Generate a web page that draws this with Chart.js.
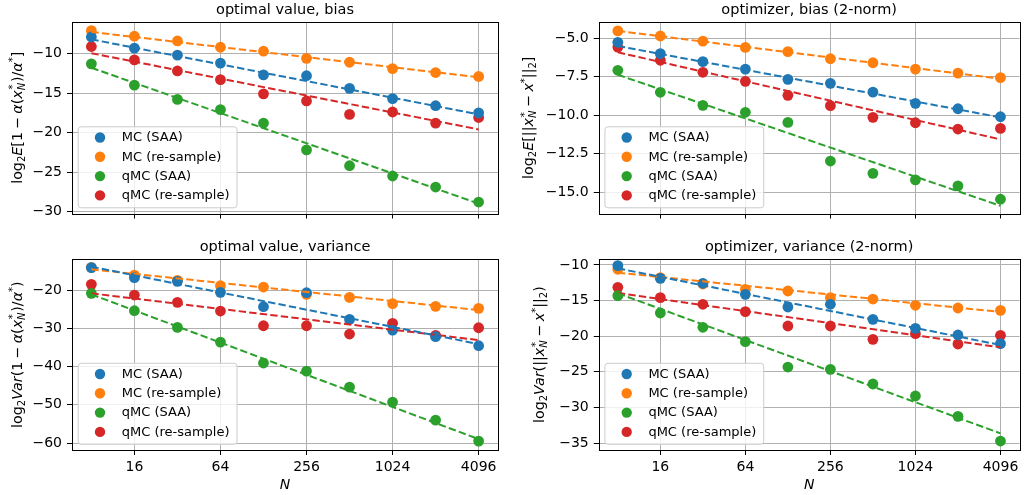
<!DOCTYPE html>
<html><head><meta charset="utf-8">
<script src="https://cdn.jsdelivr.net/npm/chart.js@4.4.0/dist/chart.umd.min.js"></script>
<style>
html,body{margin:0;padding:0;background:#fff;}
#wrap{position:relative;width:1025px;height:495px;overflow:hidden;background:#fff;}
canvas{position:absolute;}
</style></head><body>
<div id="wrap">
<canvas id="c0" width="512" height="240" style="left:0px;top:0px"></canvas>
<canvas id="c1" width="513" height="240" style="left:512px;top:0px"></canvas>
<canvas id="c2" width="512" height="255" style="left:0px;top:240px"></canvas>
<canvas id="c3" width="513" height="255" style="left:512px;top:240px"></canvas>
</div>
<script>
// ---------------- data ----------------
const N = [8, 16, 32, 64, 128, 256, 512, 1024, 2048, 4096];
const fitN = [8, 4096];
const seriesLabels = ['MC (SAA)', 'MC (re-sample)', 'qMC (SAA)', 'qMC (re-sample)'];
const seriesColors = ['#1f77b4', '#ff7f0e', '#2ca02c', '#d62728'];
const xTicks = [16, 64, 256, 1024, 4096];
const xTickLabels = ['16', '64', '256', '1024', '4096'];

// optimal value, bias
const ovBias_MC_SAA  = [-7.9, -9.3, -10.2, -11.2, -12.7, -12.8, -14.4, -15.7, -16.6, -17.5];
const ovBias_MC_RS   = [-7.1, -7.8, -8.4, -9.2, -9.7, -10.6, -11.1, -11.9, -12.4, -12.9];
const ovBias_qMC_SAA = [-11.3, -14.0, -15.8, -17.1, -18.8, -22.2, -24.2, -25.5, -26.9, -28.8];
const ovBias_qMC_RS  = [-9.1, -10.8, -12.2, -13.3, -15.1, -16.0, -17.7, -17.4, -18.8, -18.1];
const ovBiasFit_MC_SAA  = [-8.2, -17.7];
const ovBiasFit_MC_RS   = [-7.26, -13.0];
const ovBiasFit_qMC_SAA = [-11.8, -29.0];
const ovBiasFit_qMC_RS  = [-9.95, -19.6];
const ovBiasTicks = [-30, -25, -20, -15, -10];

// optimizer, bias (2-norm)
const xBias_MC_SAA  = [-5.26, -6.0, -6.52, -7.0, -7.67, -7.93, -8.5, -9.23, -9.58, -10.1];
const xBias_MC_RS   = [-4.52, -4.85, -5.18, -5.59, -5.87, -6.33, -6.59, -7.0, -7.26, -7.56];
const xBias_qMC_SAA = [-7.08, -8.51, -9.36, -9.81, -10.47, -12.98, -13.78, -14.2, -14.59, -15.46];
const xBias_qMC_RS  = [-5.57, -6.43, -7.21, -7.8, -8.71, -9.38, -10.14, -10.49, -10.9, -10.86];
const xBiasFit_MC_SAA  = [-5.5, -10.14];
const xBiasFit_MC_RS   = [-4.52, -7.63];
const xBiasFit_qMC_SAA = [-7.37, -15.89];
const xBiasFit_qMC_RS  = [-5.91, -11.57];
const xBiasTicks = [-15, -12.5, -10, -7.5, -5];

// optimal value, variance
const ovVar_MC_SAA  = [-14.16, -16.78, -17.73, -20.61, -24.36, -20.7, -27.67, -30.46, -32.2, -34.55];
const ovVar_MC_RS   = [-14.07, -16.1, -17.47, -18.87, -19.22, -21.13, -21.92, -23.57, -24.27, -24.79];
const ovVar_qMC_SAA = [-20.87, -25.4, -29.76, -33.6, -39.08, -41.18, -45.36, -49.28, -53.99, -59.48];
const ovVar_qMC_RS  = [-18.52, -21.31, -23.22, -25.49, -29.33, -29.33, -31.5, -28.71, -31.85, -29.85];
const ovVarFit_MC_SAA  = [-13.9, -34.12];
const ovVarFit_MC_RS   = [-14.6, -25.23];
const ovVarFit_qMC_SAA = [-21.13, -58.95];
const ovVarFit_qMC_RS  = [-20.87, -33.07];
const ovVarTicks = [-60, -50, -40, -30, -20];

// optimizer, variance (2-norm)
const xVar_MC_SAA  = [-10.09, -11.87, -12.57, -14.12, -15.9, -15.52, -17.63, -18.9, -19.83, -21.05];
const xVar_MC_RS   = [-10.6, -11.78, -12.67, -13.42, -13.65, -14.59, -14.78, -15.66, -16.04, -16.37];
const xVar_qMC_SAA = [-14.31, -16.74, -18.75, -20.77, -24.33, -24.65, -26.71, -28.4, -31.25, -34.72];
const xVar_qMC_RS  = [-13.14, -14.59, -15.52, -16.55, -18.57, -18.57, -20.44, -19.64, -21.1, -19.88];
const xVarFit_MC_SAA  = [-10.47, -21.24];
const xVarFit_MC_RS   = [-11.08, -16.6];
const xVarFit_qMC_SAA = [-13.98, -33.64];
const xVarFit_qMC_RS  = [-13.93, -21.56];
const xVarTicks = [-35, -30, -25, -20, -15, -10];

// ---------------- rendering ----------------
Chart.defaults.font.family = '"DejaVu Sans", sans-serif';
Chart.defaults.font.size = 14;
Chart.defaults.color = '#000';

const FAM = '"DejaVu Sans"';
function fnt(it, sz) { return (it ? 'italic ' : '') + sz + 'px ' + FAM; }

function drawRich(ctx, segs, bx, cy, fs) {
  const k = 0.7;
  const items = segs.map(s => {
    if (s.ss) {
      ctx.font = fnt(false, fs * k); const w1 = ctx.measureText(s.ss[0]).width;
      ctx.font = fnt(true, fs * k); const w2 = ctx.measureText(s.ss[1]).width;
      return { s, w: Math.max(w1, w2) + 0.05 * fs };
    }
    const sz = (s.sub || s.sup) ? fs * k : fs;
    ctx.font = fnt(s.it, sz);
    return { s, w: ctx.measureText(s.t).width + (s.pad || 0) * 2 * fs };
  });
  const total = items.reduce((a, b) => a + b.w, 0);
  ctx.save();
  ctx.translate(bx, cy);
  ctx.rotate(-Math.PI / 2);
  ctx.textBaseline = 'alphabetic';
  ctx.textAlign = 'left';
  ctx.fillStyle = '#000';
  let x = -total / 2;
  for (const it of items) {
    const s = it.s;
    if (s.ss) {
      ctx.font = fnt(false, fs * k); ctx.fillText(s.ss[0], x + 0.05 * fs, -fs * 0.36);
      ctx.font = fnt(true, fs * k); ctx.fillText(s.ss[1], x, fs * 0.24);
    } else {
      const sz = (s.sub || s.sup) ? fs * k : fs;
      ctx.font = fnt(s.it, sz);
      const dy = s.sub ? fs * 0.24 : (s.sup ? -fs * 0.36 : 0);
      ctx.fillText(s.t, x + (s.pad || 0) * fs, dy);
    }
    x += it.w;
  }
  ctx.restore();
}

const decoPlugin = {
  id: 'deco',
  afterDraw(chart) {
    const cfg = chart.options.plugins.deco;
    const ctx = chart.ctx;
    const a = chart.chartArea;
    ctx.save();
    // spines
    ctx.strokeStyle = '#000';
    ctx.lineWidth = 1;
    const L = Math.round(a.left) + 0.5, T = Math.round(a.top) + 0.5;
    const R = Math.round(a.right) + 0.5, B = Math.round(a.bottom) + 0.5;
    ctx.strokeRect(L, T, R - L, B - T);
    // title
    ctx.fillStyle = '#000';
    ctx.font = fnt(false, 14.5);
    ctx.textAlign = 'center';
    ctx.textBaseline = 'alphabetic';
    ctx.fillText(cfg.title, (a.left + a.right) / 2, a.top - 8);
    // x label
    if (cfg.xLabel) {
      ctx.font = fnt(true, 14);
      ctx.fillText(cfg.xLabel, (a.left + a.right) / 2, a.bottom + 39);
    }
    // y label
    drawRich(ctx, cfg.yLabel, a.left - cfg.yLabOff, (a.top + a.bottom) / 2, 14.3);
    // legend
    const ds = chart.data.datasets.filter(d => d.inLegend);
    ctx.font = fnt(false, 13);
    let tw = 0;
    ds.forEach(d => { tw = Math.max(tw, ctx.measureText(d.label).width); });
    const bw = 44 + tw + 7, bh = 81;
    const bxl = a.left + 5.7, byt = a.bottom - 6.2 - bh;
    ctx.beginPath();
    if (ctx.roundRect) ctx.roundRect(bxl + 0.5, byt + 0.5, bw, bh, 3); else ctx.rect(bxl + 0.5, byt + 0.5, bw, bh);
    ctx.fillStyle = 'rgba(255,255,255,0.8)';
    ctx.fill();
    ctx.strokeStyle = '#cccccc';
    ctx.lineWidth = 1;
    ctx.stroke();
    ds.forEach((d, i) => {
      const yy = byt + 11.2 + i * 19.3;
      ctx.beginPath();
      ctx.arc(bxl + 22.3, yy, 5.2, 0, Math.PI * 2);
      ctx.fillStyle = d.pointBackgroundColor;
      ctx.fill();
      ctx.fillStyle = '#000';
      ctx.textAlign = 'left';
      ctx.textBaseline = 'middle';
      ctx.fillText(d.label, bxl + 44, yy + 0.5);
    });
    ctx.restore();
  }
};

function makeChart(id, c) {
  const canvas = document.getElementById(id);
  const W = canvas.width, H = canvas.height;
  const datasets = [];
  for (let i = 0; i < 4; i++) {
    datasets.push({
      label: '',
      data: fitN.map((n, j) => ({ x: n, y: c.fits[i][j] })),
      showLine: true,
      borderColor: seriesColors[i],
      borderWidth: 2,
      borderDash: [7.4, 3.2],
      pointRadius: 0,
      fill: false,
      order: 0
    });
  }
  for (let i = 0; i < 4; i++) {
    datasets.push({
      label: seriesLabels[i],
      inLegend: true,
      data: N.map((n, j) => ({ x: n, y: c.pts[i][j] })),
      showLine: false,
      pointRadius: 5.4,
      pointBorderWidth: 0,
      pointBackgroundColor: seriesColors[i],
      pointBorderColor: seriesColors[i],
      order: 1
    });
  }
  const yTicks = c.yTicks;
  return new Chart(canvas, {
    type: 'scatter',
    data: { datasets },
    plugins: [decoPlugin],
    options: {
      responsive: false,
      animation: false,
      devicePixelRatio: 1,
      layout: { padding: { left: 0, right: W - c.area.right, top: c.area.top, bottom: 0 } },
      plugins: {
        legend: { display: false },
        tooltip: { enabled: false },
        title: { display: false },
        deco: { title: c.title, yLabel: c.yLabel, yLabOff: c.yLabOff, xLabel: c.showX ? 'N' : '' }
      },
      scales: {
        x: {
          type: 'logarithmic',
          min: Math.pow(2, 2.55),
          max: Math.pow(2, 12.45),
          afterBuildTicks: s => { s.ticks = xTicks.map(v => ({ value: v })); },
          afterFit: s => { s.height = H - c.area.bottom; },
          ticks: {
            display: c.showX,
            autoSkip: false,
            maxRotation: 0,
            padding: 4,
            font: { size: 14 },
            color: '#000',
            callback: (v, i) => xTickLabels[i]
          },
          grid: { color: '#b0b0b0', lineWidth: 1, tickColor: '#000', tickLength: 5, tickWidth: 1, drawTicks: true },
          border: { display: false }
        },
        y: {
          type: 'linear',
          min: c.yMin,
          max: c.yMax,
          bounds: 'data',
          afterBuildTicks: s => { s.ticks = yTicks.map(v => ({ value: v })); },
          afterFit: s => { s.width = c.area.left; },
          ticks: {
            autoSkip: false,
            padding: 5,
            font: { size: 14 },
            color: '#000',
            callback: v => (c.dec ? v.toFixed(c.dec) : String(v)).replace('-', '\u2212')
          },
          grid: { color: '#b0b0b0', lineWidth: 1, tickColor: '#000', tickLength: 5, tickWidth: 1, drawTicks: true },
          border: { display: false }
        }
      }
    }
  });
}

const mathLabelTL = [{t:'log'},{t:'2',sub:1},{t:'E',it:1},{t:'[1'},{t:'\u2212',pad:0.22},{t:'\u03b1',it:1},{t:'('},{t:'x',it:1},{ss:['*','N']},{t:')/'},{t:'\u03b1',it:1},{t:'*',sup:1},{t:']'}];
const mathLabelTR = [{t:'log'},{t:'2',sub:1},{t:'E',it:1},{t:'[||'},{t:'x',it:1},{ss:['*','N']},{t:'\u2212',pad:0.22},{t:'x',it:1},{t:'*',sup:1},{t:'||'},{t:'2',sub:1},{t:']'}];
const mathLabelBL = [{t:'log'},{t:'2',sub:1},{t:'Var',it:1},{t:'(1'},{t:'\u2212',pad:0.22},{t:'\u03b1',it:1},{t:'('},{t:'x',it:1},{ss:['*','N']},{t:')/'},{t:'\u03b1',it:1},{t:'*',sup:1},{t:')'}];
const mathLabelBR = [{t:'log'},{t:'2',sub:1},{t:'Var',it:1},{t:'(||'},{t:'x',it:1},{ss:['*','N']},{t:'\u2212',pad:0.22},{t:'x',it:1},{t:'*',sup:1},{t:'||'},{t:'2',sub:1},{t:')'}];

makeChart('c0', {
  title: 'optimal value, bias', yLabel: mathLabelTL, yLabOff: 50.5,
  pts: [ovBias_MC_SAA, ovBias_MC_RS, ovBias_qMC_SAA, ovBias_qMC_RS],
  fits: [ovBiasFit_MC_SAA, ovBiasFit_MC_RS, ovBiasFit_qMC_SAA, ovBiasFit_qMC_RS],
  yTicks: ovBiasTicks, yMin: -30.25, yMax: -6.0, dec: 0, showX: false,
  area: { left: 72, right: 498, top: 22, bottom: 213.5 }
});
makeChart('c1', {
  title: 'optimizer, bias (2-norm)', yLabel: mathLabelTR, yLabOff: 65.7,
  pts: [xBias_MC_SAA, xBias_MC_RS, xBias_qMC_SAA, xBias_qMC_RS],
  fits: [xBiasFit_MC_SAA, xBiasFit_MC_RS, xBiasFit_qMC_SAA, xBiasFit_qMC_RS],
  yTicks: xBiasTicks, yMin: -16.39, yMax: -3.94, dec: 1, showX: false,
  area: { left: 86.7, right: 508.3, top: 22, bottom: 213.5 }
});
makeChart('c2', {
  title: 'optimal value, variance', yLabel: mathLabelBL, yLabOff: 50.5,
  pts: [ovVar_MC_SAA, ovVar_MC_RS, ovVar_qMC_SAA, ovVar_qMC_RS],
  fits: [ovVarFit_MC_SAA, ovVarFit_MC_RS, ovVarFit_qMC_SAA, ovVarFit_qMC_RS],
  yTicks: ovVarTicks, yMin: -61.8, yMax: -11.97, dec: 0, showX: true,
  area: { left: 72, right: 498, top: 19.3, bottom: 210 }
});
makeChart('c3', {
  title: 'optimizer, variance (2-norm)', yLabel: mathLabelBR, yLabOff: 54.7,
  pts: [xVar_MC_SAA, xVar_MC_RS, xVar_qMC_SAA, xVar_qMC_RS],
  fits: [xVarFit_MC_SAA, xVarFit_MC_RS, xVarFit_qMC_SAA, xVarFit_qMC_RS],
  yTicks: xVarTicks, yMin: -35.98, yMax: -9.2, dec: 0, showX: true,
  area: { left: 86.7, right: 508.3, top: 19.3, bottom: 210 }
});
</script>
</body></html>
